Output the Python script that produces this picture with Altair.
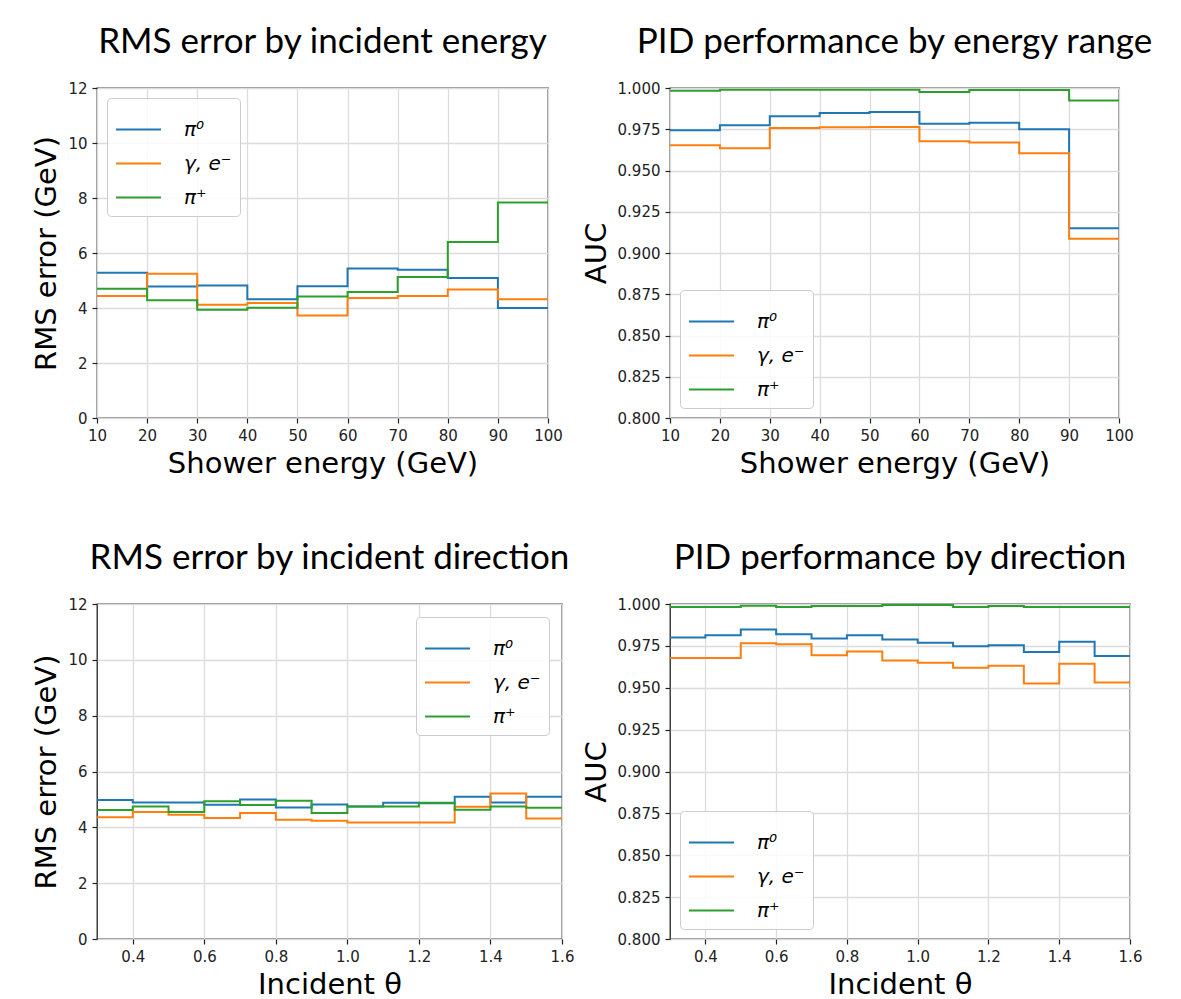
import altair as alt
import pandas as pd

series = ["π⁰", "γ, e⁻", "π⁺"]
colors = ["#1f77b4", "#ff7f0e", "#2ca02c"]

energy_edges = [10, 20, 30, 40, 50, 60, 70, 80, 90, 100]
energy_ticks = [10, 20, 30, 40, 50, 60, 70, 80, 90, 100]

rms_energy_pi0 = [5.28, 4.78, 4.82, 4.32, 4.79, 5.44, 5.39, 5.09, 4.00]
rms_energy_gamma = [4.44, 5.25, 4.12, 4.18, 3.73, 4.36, 4.44, 4.67, 4.32]
rms_energy_pip = [4.70, 4.28, 3.94, 4.01, 4.42, 4.58, 5.13, 6.40, 7.84]

auc_energy_pi0 = [0.9744, 0.9774, 0.9829, 0.9849, 0.9855, 0.9784, 0.9790, 0.9750, 0.9150]
auc_energy_gamma = [0.9653, 0.9635, 0.9758, 0.9762, 0.9764, 0.9678, 0.9670, 0.9605, 0.9086]
auc_energy_pip = [0.9984, 0.9990, 0.9990, 0.9990, 0.9990, 0.9976, 0.9988, 0.9988, 0.9924]

theta_edges = [0.3, 0.4, 0.5, 0.6, 0.7, 0.8, 0.9, 1.0, 1.1, 1.2, 1.3, 1.4, 1.5, 1.6]
theta_ticks = [0.4, 0.6, 0.8, 1.0, 1.2, 1.4, 1.6]

rms_theta_pi0 = [4.98, 4.89, 4.89, 4.81, 5.00, 4.71, 4.82, 4.75, 4.88, 4.86, 5.10, 4.89, 5.10]
rms_theta_gamma = [4.36, 4.55, 4.45, 4.33, 4.51, 4.27, 4.24, 4.17, 4.17, 4.17, 4.74, 5.21, 4.32]
rms_theta_pip = [4.62, 4.75, 4.55, 4.93, 4.80, 4.95, 4.51, 4.75, 4.75, 4.88, 4.63, 4.75, 4.70]

auc_theta_pi0 = [0.9800, 0.9814, 0.9848, 0.9820, 0.9794, 0.9814, 0.9788, 0.9768, 0.9748, 0.9754, 0.9714, 0.9774, 0.9690]
auc_theta_gamma = [0.9678, 0.9678, 0.9766, 0.9760, 0.9694, 0.9716, 0.9662, 0.9650, 0.9620, 0.9632, 0.9526, 0.9644, 0.9532]
auc_theta_pip = [0.9982, 0.9982, 0.9990, 0.9982, 0.9988, 0.9988, 0.9994, 0.9994, 0.9982, 0.9988, 0.9982, 0.9982, 0.9982]

rms_ticks = [0, 2, 4, 6, 8, 10, 12]
auc_ticks = [0.800, 0.825, 0.850, 0.875, 0.900, 0.925, 0.950, 0.975, 1.000]


def panel(edges, vals_list, title, xtitle, ytitle, xdomain, xticks, xfmt,
          ydomain, yticks, yfmt, legend_orient, legend_offset, w, h):
    rows = []
    for s, vals in zip(series, vals_list):
        ys = list(vals) + [vals[-1]]
        for e, v in zip(edges, ys):
            rows.append({"x": e, "y": v, "s": s})
    df = pd.DataFrame(rows)
    base = alt.Chart(df)
    layers = []
    for s in series:
        enc = dict(
            x=alt.X("x:Q", scale=alt.Scale(domain=xdomain, nice=False, zero=False),
                    axis=alt.Axis(values=xticks, format=xfmt, title=xtitle, labelFlush=False)),
            y=alt.Y("y:Q", scale=alt.Scale(domain=ydomain, nice=False, zero=False),
                    axis=alt.Axis(values=yticks, format=yfmt, title=ytitle, labelFlush=False)),
            color=alt.Color("s:N", scale=alt.Scale(domain=series, range=colors),
                            legend=alt.Legend(
                                title=None, orient=legend_orient, offset=legend_offset,
                                fillColor="rgba(255,255,255,0.85)",
                                strokeColor="#cccccc", cornerRadius=4, padding=8,
                                labelFontSize=20, labelFont="DejaVu Sans",
                                labelFontStyle="italic", labelColor="black",
                                symbolType="stroke", symbolSize=2025,
                                symbolStrokeWidth=2, rowPadding=-9, labelOffset=22)),
        )
        layers.append(
            base.transform_filter(alt.datum.s == s)
            .mark_line(interpolate="step-after", strokeWidth=2)
            .encode(**enc)
        )
    return alt.layer(*layers).properties(
        width=w, height=h,
        title=alt.Title(title, font="Lato", fontSize=35, fontWeight="normal",
                        color="black", anchor="middle", offset=21),
    )


p1 = panel(energy_edges, [rms_energy_pi0, rms_energy_gamma, rms_energy_pip],
           "RMS error by incident energy", "Shower energy (GeV)", "RMS error (GeV)",
           [10, 100], energy_ticks, "d", [0, 12], rms_ticks, "d", "top-left", 10, 451, 330)
p2 = panel(energy_edges, [auc_energy_pi0, auc_energy_gamma, auc_energy_pip],
           "PID performance by energy range", "Shower energy (GeV)", "AUC",
           [10, 100], energy_ticks, "d", [0.8, 1.0], auc_ticks, ".3f", "bottom-left", 10, 449, 330)
p3 = panel(theta_edges, [rms_theta_pi0, rms_theta_gamma, rms_theta_pip],
           "RMS error by incident direction", "Incident θ", "RMS error (GeV)",
           [0.3, 1.6], theta_ticks, ".1f", [0, 12], rms_ticks, "d", "top-right", 13, 465, 335)
p4 = panel(theta_edges, [auc_theta_pi0, auc_theta_gamma, auc_theta_pip],
           "PID performance by direction", "Incident θ", "AUC",
           [0.3, 1.6], theta_ticks, ".1f", [0.8, 1.0], auc_ticks, ".3f", "bottom-left", 10, 460, 335)

chart = alt.concat(
    p1, p2, p3, p4, columns=2,
    spacing={"row": 186, "column": 108}, bounds="flush",
).resolve_scale(
    x="independent", y="independent", color="independent"
).resolve_legend(color="independent").resolve_axis(x="independent", y="independent")

chart = chart.properties(
    padding={"left": 24, "top": 16, "right": 5, "bottom": 5},
    background="white",
).configure_view(
    stroke="#222222", strokeWidth=1.3
).configure_axis(
    grid=True, gridColor="#dcdcdc", gridWidth=1.3,
    domain=False, ticks=True, tickColor="#222222", tickSize=5, tickWidth=1.2,
    labelFont="DejaVu Sans", labelFontSize=15, labelColor="#222222", labelPadding=5,
    titleFont="DejaVu Sans", titleFontSize=29, titleFontWeight="normal",
    titleColor="black", titlePadding=6,
)

chart.save("out.html", embed_options={"renderer": "svg", "actions": False})
